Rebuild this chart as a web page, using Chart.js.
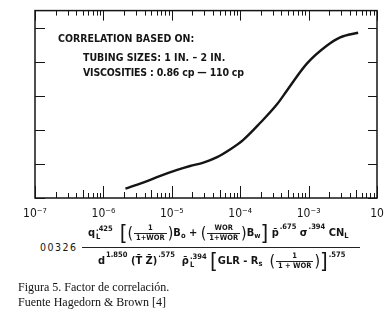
<!DOCTYPE html>
<html>
<head>
<meta charset="utf-8">
<script src="https://cdn.jsdelivr.net/npm/chart.js@4.4.1/dist/chart.umd.min.js"></script>
<style>
  body { margin: 0; background: #fff; }
  #page { position: relative; width: 391px; height: 325px; overflow: hidden; background: #fff; color: #151515; }
  #chartBox { position: absolute; left: 0; top: 0; width: 391px; height: 225px; }
  .note { position: absolute; font-family: "DejaVu Sans Condensed", "DejaVu Sans", sans-serif; font-weight: bold; font-size: 10.5px; white-space: nowrap; }
  .fx { position: absolute; font-family: "DejaVu Sans Condensed", "DejaVu Sans", sans-serif; font-weight: 600; font-size: 11px; white-space: nowrap; line-height: 1; }
  .fx .ss { display: inline-flex; flex-direction: column; font-size: 7.5px; vertical-align: middle; line-height: 1.05; margin-left: 1px; }
  .fx sup { font-size: 7.5px; vertical-align: 7px; margin-left: 1px; }
  .fx sub { font-size: 7.5px; vertical-align: -2px; }
  .fx .fr { display: inline-flex; flex-direction: column; align-items: center; font-size: 7.5px; vertical-align: middle; line-height: 1.15; margin: 0 1px; }
  .fx .fr span + span { border-top: 1px solid #222; padding: 0 2px; }
  .fx .br { font-size: 22px; font-weight: 300; vertical-align: middle; line-height: 1; }
  .fx .pa { font-size: 16px; font-weight: 300; vertical-align: middle; line-height: 1; }
  .cap { position: absolute; left: 18px; font-family: "Liberation Serif", "Times New Roman", serif; font-size: 12px; white-space: nowrap; color: #111; }
</style>
</head>
<body>
<div id="page">
  <div id="chartBox"><canvas id="hbChart" width="391" height="225"></canvas></div>

  <div class="note" style="left:58px; top:32px;">CORRELATION BASED ON:</div>
  <div class="note" style="left:83px; top:51px;">TUBING SIZES: 1 IN. – 2 IN.</div>
  <div class="note" style="left:83px; top:66px; letter-spacing:-0.2px;">VISCOSITIES : 0.86 cp — 110 cp</div>

  <div class="fx" style="left:40px; top:242px; font-weight:normal; font-size:10.5px; letter-spacing:1.5px;">00326</div>
  <div class="fx" style="left:88px; top:222px;">
    q<span class="ss"><span>.425</span><span>L</span></span>&nbsp;
    <span class="br">[</span><span class="pa">(</span><span class="fr"><span>1</span><span>1+WOR</span></span><span class="pa">)</span>B<sub>o</sub>
    + <span class="pa">(</span><span class="fr"><span>WOR</span><span>1+WOR</span></span><span class="pa">)</span>B<sub>w</sub><span class="br">]</span>
    p̄<sup>.675</sup> σ<sup>.394</sup> CN<sub>L</sub>
  </div>
  <div style="position:absolute; left:82px; top:247px; width:278px; height:1px; background:#222;"></div>
  <div class="fx" style="left:98px; top:250px;">
    d<sup>1.850</sup> (T̄ Z̄)<sup>.575</sup>&nbsp; ρ̄<span class="ss"><span>.394</span><span>L</span></span>
    <span class="br">[</span>GLR - R<sub>s</sub> &nbsp;<span class="pa">(</span><span class="fr"><span>1</span><span>1 + WOR</span></span><span class="pa">)</span><span class="br">]</span><sup>.575</sup>
  </div>

  <div class="cap" style="top:280px;">Figura 5. Factor de correlación.</div>
  <div class="cap" style="top:295px;">Fuente Hagedorn &amp; Brown [4]</div>
</div>

<script>
// curve (x = correlation group, y = CN_L factor)
const curveX = [2.1e-6, 3.8e-6, 6.8e-6, 1.2e-5, 1.85e-5, 2.9e-5, 4.6e-5, 7.1e-5, 1.1e-4, 1.95e-4, 3.5e-4, 4.8e-4, 9.5e-4, 1.86e-3, 2.9e-3, 5.3e-3];
const curveY = [0.055, 0.09, 0.13, 0.165, 0.188, 0.208, 0.24, 0.285, 0.34, 0.44, 0.553, 0.63, 0.79, 0.895, 0.943, 0.97];

// axes
const xDecades = [1e-7, 1e-6, 1e-5, 1e-4, 1e-3, 1e-2];
const xTickLabels = ['10⁻⁷', '10⁻⁶', '10⁻⁵', '10⁻⁴', '10⁻³', '10'];
const yTickValues = [0, 0.2, 0.4, 0.6, 0.8, 1.0];
const yTickLabels = ['0', '.2', '.4', '.6', '.8', '1.0'];
const yMax = 1.1;

// frame with inward ticks on all four sides, like the original plot
const frameTicks = {
    id: 'frameTicks',
    afterDraw(chart) {
        const ctx = chart.ctx;
        const a = chart.chartArea;
        const x = chart.scales.x;
        const y = chart.scales.y;
        ctx.save();

        // the scan cuts the y labels off, only their right edge shows
        ctx.fillStyle = '#fff';
        ctx.fillRect(0, 0, 29, a.bottom + 6);

        ctx.strokeStyle = '#151515';
        ctx.lineWidth = 1.5;
        ctx.strokeRect(a.left, a.top, a.right - a.left, a.bottom - a.top);

        ctx.lineWidth = 1;
        ctx.beginPath();
        for (let d = 0; d < xDecades.length; d++) {
            for (let s = 1; s <= 9; s++) {
                const v = xDecades[d] * s;
                if (v > xDecades[xDecades.length - 1]) break;
                const px = Math.round(x.getPixelForValue(v)) + 0.5;
                let len = 5;
                if (s === 1) len = 12;
                else if (s === 5) len = 8;
                else if (s === 2) len = 6;
                ctx.moveTo(px, a.bottom);
                ctx.lineTo(px, a.bottom - len);
                ctx.moveTo(px, a.top);
                ctx.lineTo(px, a.top + (s === 1 ? 10 : 5));
            }
        }
        yTickValues.forEach(v => {
            const py = Math.round(y.getPixelForValue(v)) + 0.5;
            ctx.moveTo(a.left, py);
            ctx.lineTo(a.left + 10, py);
            ctx.moveTo(a.right, py);
            ctx.lineTo(a.right - 9, py);
        });
        ctx.stroke();
        ctx.restore();
    }
};

const ctx = document.getElementById('hbChart');
new Chart(ctx, {
    type: 'line',
    data: {
        datasets: [{
            data: curveX.map((v, i) => ({ x: v, y: curveY[i] })),
            borderColor: '#151515',
            borderWidth: 2.4,
            pointRadius: 0,
            cubicInterpolationMode: 'monotone',
            fill: false
        }]
    },
    options: {
        responsive: false,
        animation: false,
        layout: { padding: { top: 6, right: 14, left: 0, bottom: 0 } },
        plugins: { legend: { display: false }, tooltip: { enabled: false } },
        scales: {
            x: {
                type: 'logarithmic',
                min: xDecades[0],
                max: xDecades[xDecades.length - 1],
                afterBuildTicks: scale => { scale.ticks = xDecades.map(v => ({ value: v })); },
                afterFit: scale => { scale.height = 27; },
                grid: { display: false },
                border: { display: false },
                ticks: {
                    autoSkip: false,
                    maxRotation: 0,
                    padding: 1,
                    color: '#151515',
                    font: { family: 'DejaVu Sans Condensed', size: 12 },
                    callback: (v, i) => xTickLabels[i]
                }
            },
            y: {
                min: 0,
                max: yMax,
                afterBuildTicks: scale => { scale.ticks = yTickValues.map(v => ({ value: v })); },
                afterFit: scale => { scale.width = 35; },
                grid: { display: false },
                border: { display: false },
                ticks: {
                    padding: 4,
                    color: '#151515',
                    font: { family: 'DejaVu Sans Condensed', size: 11, weight: 'bold' },
                    callback: (v, i) => yTickLabels[i]
                }
            }
        }
    },
    plugins: [frameTicks]
});
</script>
</body>
</html>
